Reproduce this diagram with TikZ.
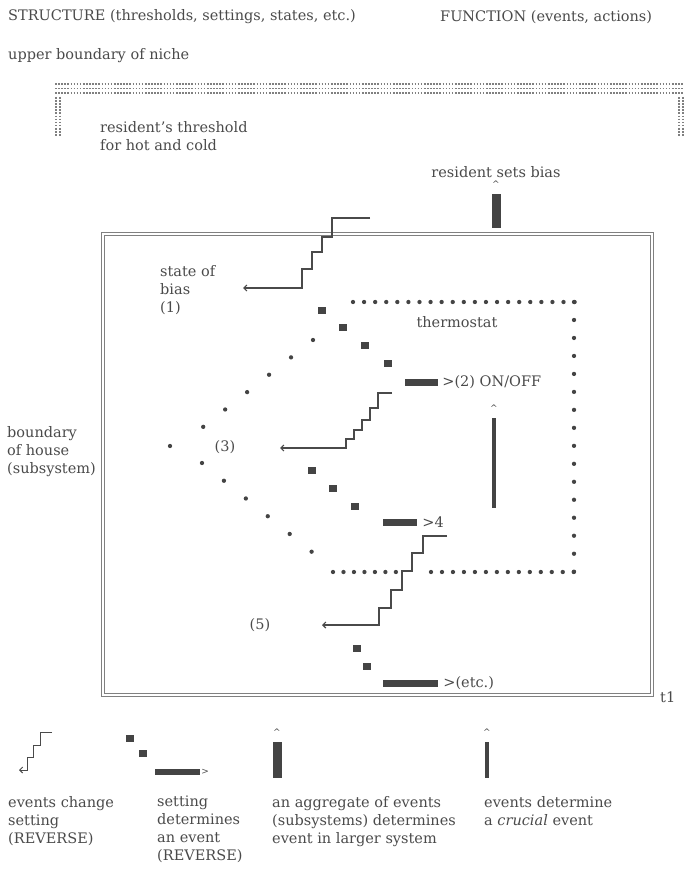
\documentclass[tikz,border=0pt]{standalone}
\usepackage{fontspec}
\setmainfont{DejaVu Serif}
\usepackage{xcolor}
\usepackage{tikz}
\usetikzlibrary{arrows.meta, positioning}
\definecolor{ink}{HTML}{4A4A4A}
\definecolor{markgray}{HTML}{444444}
\tikzstyle{lbl} = [inner sep=0pt, text=ink, font=\fontsize{14.5}{18}\selectfont]
\tikzstyle{para} = [lbl, align=left, anchor=north west]
\tikzstyle{setsq} = [rectangle, fill=markgray, minimum width=8pt,
    minimum height=7pt, inner sep=0pt]
\tikzstyle{evbar} = [rectangle, fill=markgray, minimum height=7pt, inner sep=0pt]
\tikzstyle{aggbar} = [rectangle, fill=markgray, minimum width=9pt, inner sep=0pt]
\tikzstyle{critbar} = [rectangle, fill=markgray, minimum width=4pt, inner sep=0pt]
\tikzstyle{caret} = [inner sep=0pt, text=markgray, font=\small]
\tikzstyle{stair} = [-{Straight Barb[length=3pt, width=6pt]}, draw=ink, line width=1.2pt]
\tikzstyle{dotrow} = [draw=markgray, line width=4.3pt, line cap=round]
\tikzstyle{nichedots} = [draw=gray, line width=1.9pt, dash pattern=on 1.6pt off 1.5pt]
\tikzstyle{house} = [draw=gray, line width=1.1pt, double=white, double distance=1.5pt]

\begin{document}
\begin{tikzpicture}[x=1pt, y=-1pt, node distance=4pt]
    \useasboundingbox (0,0) rectangle (698,869);

    % Headings
    \node[lbl, anchor=west] (structure) at (8,17) {STRUCTURE (thresholds, settings, states, etc.)};
    \node[lbl, anchor=west] (function) at (440,17) {FUNCTION (events, actions)};
    \node[lbl, anchor=west] (nichetxt) at (8,56) {upper boundary of niche};

    % Niche
    \draw[nichedots] (55,84) -- (684,84);
    \draw[nichedots] (55,88.5) -- (684,88.5);
    \draw[nichedots] (55,93) -- (684,93);
    \draw[nichedots] (56,97) -- (56,136);
    \draw[nichedots] (60,97) -- (60,136);
    \draw[nichedots] (679,97) -- (679,136);
    \draw[nichedots] (683,97) -- (683,136);
    \node[para] (threshold) at (100,121) {resident's threshold\\for hot and cold};

    % Resident
    \node[aggbar, minimum height=34pt] (biasbar) at (496,211) {};
    \node[caret, above=6pt of biasbar] (biascaret) {\^{}};
    \node[lbl, above=3pt of biascaret] (biastxt) {resident sets bias};

    % House
    \draw[house] (103,234) rectangle (652,695);
    \node[lbl, anchor=west] (tone) at (660,697) {t1};
    \node[para] (housetxt) at (7,426) {boundary\\of house\\(subsystem)};

    % State of bias
    \coordinate (biasin) at (370,218);
    \coordinate (biasout) at (243,288);
    \draw[stair] (biasin) -- ++(-38,0) -- ++(0,19) -- ++(-10,0) -- ++(0,15)
        -- ++(-10,0) -- ++(0,17) -- ++(-10,0) -- ++(0,19) -- (biasout);
    \node[para] (biastate) at (160,265) {state of\\bias\\(1)};

    % Thermostat
    \draw[dotrow, dash pattern=on 0pt off 11.08pt] (353,302) -- (575,302);
    \draw[dotrow, dash pattern=on 0pt off 17.98pt] (574,302) -- (574,572);
    \draw[dotrow, dash pattern=on 0pt off 10.48pt] (333,572) -- (396,572);
    \draw[dotrow, dash pattern=on 0pt off 10.98pt] (431,572) -- (574,572);
    \draw[dotrow, dash pattern=on 0pt off 28pt] (313,340) -- (203,427);
    \draw[dotrow, dash pattern=on 0pt off 28.2pt] (202,463) -- (312,552);
    \fill[markgray] (170,446) circle[radius=2.15pt];
    \node[lbl] (thermo) at (457,322) {thermostat};
    \node[lbl] (three) at (225,447) {(3)};

    \node[setsq] (sqa) at (322,310) {};
    \node[setsq] (sqb) at (343,327) {};
    \node[setsq] (sqc) at (365,345) {};
    \node[setsq] (sqd) at (388,363) {};
    \node[evbar, minimum width=33pt] (onbar) at (421.5,382) {};
    \node[lbl, right=4pt of onbar] (onoff) {>(2) ON/OFF};

    \coordinate (onin) at (392,393);
    \coordinate (onout) at (280,448);
    \draw[stair] (onin) -- ++(-14,0) -- ++(0,15) -- ++(-8,0) -- ++(0,12)
        -- ++(-8,0) -- ++(0,10) -- ++(-8,0) -- ++(0,9) -- ++(-8,0) -- ++(0,9) -- (onout);

    \node[critbar, minimum height=90pt] (thermbar) at (494,463) {};
    \node[caret, above=6pt of thermbar] (thermcaret) {\^{}};

    \node[setsq] (sqe) at (312,470) {};
    \node[setsq] (sqf) at (333,488) {};
    \node[setsq] (sqg) at (355,506) {};
    \node[evbar, minimum width=34pt] (fourbar) at (400,522) {};
    \node[lbl, right=5pt of fourbar] (four) {>4};

    \coordinate (fourin) at (447,536);
    \coordinate (fourout) at (322,625);
    \draw[stair] (fourin) -- ++(-24,0) -- ++(0,17) -- ++(-11,0) -- ++(0,18)
        -- ++(-10,0) -- ++(0,19) -- ++(-11,0) -- ++(0,18) -- ++(-12,0) -- ++(0,17) -- (fourout);
    \node[lbl] (five) at (260,625) {(5)};

    \node[setsq] (sqh) at (357,648) {};
    \node[setsq] (sqi) at (367,666) {};
    \node[evbar, minimum width=55pt] (etcbar) at (410.5,683) {};
    \node[lbl, right=5pt of etcbar] (etc) {>(etc.)};

    % Legend
    \coordinate (lgin) at (52,732);
    \coordinate (lgout) at (19,770);
    \draw[stair, line width=1pt] (lgin) -- ++(-12,0) -- ++(0,13) -- ++(-7,0) -- ++(0,12)
        -- ++(-6,0) -- ++(0,13) -- (lgout);
    \node[setsq] (lgsqa) at (130,738) {};
    \node[setsq] (lgsqb) at (143,753) {};
    \node[evbar, minimum width=45pt, minimum height=6pt] (lgbar) at (177.5,772) {};
    \node[lbl, right=1pt of lgbar, font=\small] (lgtip) {>};
    \node[aggbar, minimum height=36pt] (lgagg) at (277,760) {};
    \node[caret, above=6pt of lgagg] (lgaggcaret) {\^{}};
    \node[critbar, minimum height=36pt] (lgcrit) at (487,760) {};
    \node[caret, above=6pt of lgcrit] (lgcritcaret) {\^{}};

    \node[para] (lgchange) at (8,796) {events change\\setting\\(REVERSE)};
    \node[para] (lgsetting) at (157,796) {setting\\determines\\an event\\(REVERSE)};
    \node[para] (lgaggtxt) at (272,796) {an aggregate of events\\(subsystems) determines\\event in larger system};
    \node[para] (lgcrittxt) at (484,796) {events determine\\a {\itshape crucial} event};
\end{tikzpicture}
\end{document}
